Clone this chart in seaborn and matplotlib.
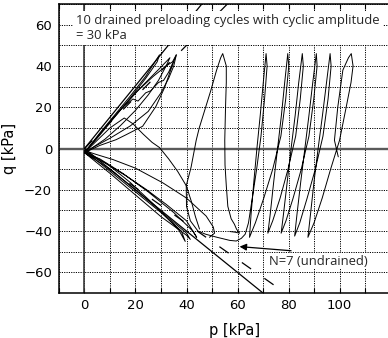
import matplotlib
matplotlib.use("Agg")
import matplotlib.pyplot as plt
import numpy as np
import pandas as pd
import seaborn as sns

sns.set_theme(style="white")
plt.rcParams["font.family"] = ["DejaVu Sans"]

# ---------------- data (p [kPa], q [kPa]) ----------------
# undrained cyclic stress path (N = 7)
und_p = [99.5, 98.0, 99.3, 101.3, 103.5, 104.6,
         105.3, 104.5, 102.6, 100.0, 96.5, 93.2, 90.0, 87.6,
         88.6, 90.0, 91.6, 93.3, 94.9, 96.3,
         96.7, 95.5, 93.5, 90.5, 87.3, 84.4, 82.4,
         83.3, 84.8, 86.4, 88.0, 89.5, 90.9,
         91.2, 89.9, 88.0, 85.0, 81.8, 79.0, 77.1,
         78.0, 79.5, 81.0, 82.6, 84.0, 85.4,
         85.8, 84.6, 82.8, 79.8, 76.7, 73.8, 71.9,
         72.8, 74.2, 75.7, 77.2, 78.5, 79.7,
         80.1, 78.9, 77.0, 73.8, 70.3, 67.0, 64.7,
         65.3, 66.4, 67.6, 68.9, 70.1, 71.2,
         71.6, 70.6, 69.2, 67.5, 65.8, 64.3, 63.0, 61.5, 59.5, 57.0, 52.0, 47.5, 44.5,
         41.5, 40.0, 39.9, 41.8, 43.8, 45.0, 47.0, 49.5, 51.8, 53.4, 54.2,
         55.6, 55.6, 55.3, 55.0, 55.1, 55.6, 56.2, 57.5, 58.8, 59.6, 60.8, 59.0, 57.0]
und_q = [-4, 4, 20, 38, 44, 46,
         40, 32, 20, 4, -10, -24, -36, -43,
         -32, -16, 0, 16, 32, 46,
         40, 24, 6, -10, -24, -36, -42.4,
         -32, -16, 0, 16, 32, 46,
         40, 24, 6, -10, -24, -35, -41,
         -32, -16, 0, 16, 32, 46,
         40, 24, 6, -10, -24, -35, -41,
         -32, -16, 0, 16, 32, 46,
         40, 24, 6, -10, -24, -36, -43,
         -32, -16, 0, 16, 32, 46,
         40, 24, 6, -10, -24, -36, -41.5, -43.5, -44.8, -44.5, -43.0, -41.5, -40.0,
         -35, -28, -18, -9, 4, 10, 18, 28, 38, 44, 46,
         40, 32, 20, 4, -8, -18, -28, -34, -36.7, -39, -41, -40.5, -40.2]

# drained preloading paths (compression side)
dr1_p = [0, 6, 12, 18, 24, 29.4, 28.5, 24, 18, 12, 6, 0]
dr1_q = [-2, 7.5, 16.5, 25.5, 35, 45.4, 42, 34, 24.5, 15.5, 6.5, -2]
dr2_p = [0, 8, 15, 19, 21, 24, 26, 29, 31, 33, 36, 33.5, 31.4, 28, 22.8, 16, 12.4, 6, 0]
dr2_q = [-2, 10, 20, 24, 23, 27, 28, 32, 33, 37, 45.4, 37, 29.5, 20.4, 10.8, 6.5, 4.3, 1.5, -2]
dr3_p = [0, 10, 20, 27, 32, 34.5, 36, 35, 33, 30, 25, 18, 10, 4, 0]
dr3_q = [-2, 13, 27, 35, 40, 42, 45.4, 40, 34, 27, 18, 11, 5, 1, -2]
dr4_p = [0, 11, 22, 30, 33.5, 32, 29, 25, 20, 14, 8, 2, 0]
dr4_q = [-2, 14.5, 29.5, 39.5, 44, 40, 33, 26, 18.5, 11, 4.5, -0.5, -2]
c1_p = [0, 5, 10, 15.6, 19, 23, 26.5, 29.4, 33, 36.5, 39.9, 42, 43.5, 45.1]
c1_q = [-2, 4, 10, 14.8, 12, 7, 3, 0.5, -5, -11, -18, -26, -33, -39]
# drained preloading paths (extension side)
dn1_p = [0, 10, 20, 30, 40, 41.5, 40, 30, 20, 10, 0]
dn1_q = [-2, -12, -22.5, -33, -42, -44, -41, -30.5, -20, -10, -2]
dn2_p = [0, 10, 20, 30, 38, 39.5, 37, 28, 18, 9, 0]
dn2_q = [-1, -11, -21, -31, -40, -45, -39.5, -28, -16.5, -7.5, -1]
dn3_p = [0, 8, 16, 24.2, 32, 40, 44, 42.5, 35, 25, 15, 6, 0]
dn3_q = [-2, -7, -13, -19.8, -27, -35, -43, -40, -31, -21, -12, -5, -2]
dn4_p = [0, 5, 11.1, 20, 30.7, 40, 47.7, 50.5, 51, 49]
dn4_q = [-1, -3, -5.3, -9.5, -16.6, -24, -32.7, -38, -41, -43]

# reference lines
cslc_p = [0, 46.0]
cslc_q = [0, 70.0]
csle_p = [0, 70.0]
csle_q = [0, -70.0]
ptlc_p = [0, 56.0]
ptlc_q = [0, 70.0]
ptle_p = [0, 77.0]
ptle_q = [-1.5, -68.5]

xtick_vals = [0, 20, 40, 60, 80, 100]
ytick_vals = [-60, -40, -20, 0, 20, 40, 60]
note_text = "10 drained preloading cycles with cyclic amplitude\n= 30 kPa"
arrow_text = "N=7 (undrained)"

# ---------------- tables ----------------
paths = {"und": (und_p, und_q), "dr1": (dr1_p, dr1_q), "dr2": (dr2_p, dr2_q),
         "dr3": (dr3_p, dr3_q), "dr4": (dr4_p, dr4_q), "c1": (c1_p, c1_q),
         "dn1": (dn1_p, dn1_q), "dn2": (dn2_p, dn2_q), "dn3": (dn3_p, dn3_q),
         "dn4": (dn4_p, dn4_q)}
rows = []
for name, (pp, qq) in paths.items():
    for i, (a, b) in enumerate(zip(pp, qq)):
        rows.append({"path": name, "i": i, "p": a, "q": b})
df = pd.DataFrame(rows)

def ref_df(d):
    r = []
    for name, (pp, qq) in d.items():
        for a, b in zip(pp, qq):
            r.append({"line": name, "p": a, "q": b})
    return pd.DataFrame(r)

solid_df = ref_df({"c": (cslc_p, cslc_q), "e": (csle_p, csle_q)})
dash_df = ref_df({"c": (ptlc_p, ptlc_q), "e": (ptle_p, ptle_q)})

# ---------------- figure ----------------
fig = plt.figure(figsize=(3.88, 3.38), dpi=100)
ax = fig.add_axes([0.152, 0.133, 0.848, 0.855])
ax.set_xlim(-10, 119)
ax.set_ylim(-70, 70)

ax.set_xticks(xtick_vals)
ax.set_xticks(np.arange(-10, 120, 10), minor=True)
ax.set_yticks(ytick_vals)
ax.set_yticks(np.arange(-70, 71, 10), minor=True)
ax.set_yticklabels([str(v).replace("-", "\u2212") for v in ytick_vals])
ax.set_xticklabels([str(v) for v in xtick_vals])
ax.grid(which="both", color="black", lw=0.7, ls=(0, (1.2, 1.2)))
ax.set_axisbelow(True)

ax.tick_params(axis="x", which="both", direction="in", length=3.5, width=0.8,
               top=True, bottom=True, labelsize=9.5, pad=4, colors="black")
ax.tick_params(axis="y", which="both", length=0, labelsize=9.5, pad=5, colors="black")
for s in ["left", "bottom", "top"]:
    ax.spines[s].set_color("black")
    ax.spines[s].set_linewidth(1.1)
ax.spines["right"].set_visible(False)

ax.axhline(0, color="#5a5a5a", lw=1.7, zorder=1.5)
ax.axvline(0, color="#3a3a3a", lw=1.2, zorder=1.5)

sns.lineplot(data=df, x="p", y="q", units="path", estimator=None, sort=False,
             color="black", linewidth=0.7, ax=ax, legend=False, zorder=2)
sns.lineplot(data=solid_df, x="p", y="q", units="line", estimator=None, sort=False,
             color="black", linewidth=0.9, ax=ax, legend=False, zorder=2)
sns.lineplot(data=dash_df, x="p", y="q", units="line", estimator=None, sort=False,
             color="black", linewidth=0.9, ax=ax, legend=False, zorder=2,
             dashes=False)
for ln in ax.get_lines()[-2:]:
    ln.set_linestyle((0, (9, 13)))

ax.set_xlabel("p [kPa]", fontsize=10.5, color="black")
ax.set_ylabel("q [kPa]", fontsize=10.5, color="black")
ax.xaxis.set_label_coords(0.535, -0.105)
ax.yaxis.set_label_coords(-0.128, 0.5)

ax.text(-3.2, 65.0, note_text, fontsize=9.4, family=["Open Sans", "DejaVu Sans"],
        ha="left", va="top", linespacing=1.15, zorder=5,
        bbox=dict(boxstyle="square,pad=0.25", fc="white", ec="none"))

ax.annotate("", xy=(60.8, -47.5), xytext=(81.0, -49.5), zorder=6,
            arrowprops=dict(arrowstyle="-|>", color="black", lw=0.9,
                            mutation_scale=10, shrinkA=0, shrinkB=0))
ax.text(72.3, -54.6, arrow_text, fontsize=9.4, family=["Open Sans", "DejaVu Sans"],
        ha="left", va="center", zorder=5,
        bbox=dict(boxstyle="square,pad=0.1", fc="white", ec="none"))

fig.savefig("out.png", dpi=100)
